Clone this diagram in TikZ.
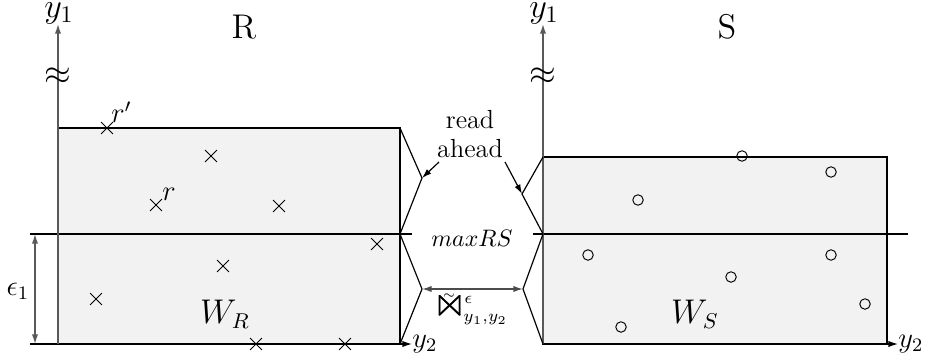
\documentclass[tikz,border=0pt]{standalone}
\usepackage{amssymb}
\usepackage{graphicx}
\usetikzlibrary{arrows.meta,shapes.misc}
\begin{document}
\begin{tikzpicture}[x=0.42pt,y=-0.42pt,
  edge/.style={line width=0.5pt,draw=black},
  axis/.style={line width=0.6pt,draw=black!65,-{Latex[length=4pt,width=2.6pt]}},
  tip/.style={-{Latex[length=4pt,width=2.6pt]}},
  win/.style={edge,fill=black!5},
  xmark/.style={draw,cross out,inner sep=0pt,minimum size=4.6pt,line width=0.4pt},
  omark/.style={draw,circle,inner sep=0pt,minimum size=4.4pt,line width=0.4pt},
  lbl/.style={inner sep=0pt}]
\useasboundingbox (0,0) rectangle (927,362);
% windows
\path[win] (58,128) rectangle (400,344);
\path[win] (543,157) rectangle (887,344);
% maxRS line
\node[lbl] (mrs) at (472,238) {$maxRS$};
\coordinate (ml) at (30,234);
\coordinate (mr) at (908,234);
\draw[edge] (ml) -- (412,234);
\draw[edge] (533,234) -- (mr);
% bottom lines with y2 arrows
\coordinate (bl) at (30,344);
\node[lbl,anchor=west] (y2l) at (412,344) {\large $y_2$};
\node[lbl,anchor=west] (y2r) at (898,344) {\large $y_2$};
\draw[edge,tip] (bl) -- (y2l.west);
\draw[edge,tip] (887,344) -- (y2r.west);
% y1 axes
\node[lbl] (y1l) at (59,13) {\Large $y_1$};
\node[lbl] (y1r) at (544,13) {\Large $y_1$};
\draw[axis] (58,344) -- (58,24);
\draw[axis] (543,344) -- (543,24);
\node[lbl] (sql) at (58,76) {\Large $\approx$};
\node[lbl] (sqr) at (543,76) {\Large $\approx$};
% epsilon dimension
\coordinate (e1) at (35,234);
\coordinate (e2) at (35,344);
\draw[line width=0.6pt,draw=black!65,{Latex[length=4pt,width=2.6pt]}-{Latex[length=4pt,width=2.6pt]}] (e1) -- (e2);
\node[lbl] (eps) at (18,291) {\large $\epsilon_1$};
% labels
\node[lbl] (R) at (244,27) {\Large R};
\node[lbl] (S) at (727,27) {\Large S};
\node[lbl,font=\fontsize{13.5}{15}\selectfont] (WR) at (225,314) {$W_R$};
\node[lbl,font=\fontsize{13.5}{15}\selectfont] (WS) at (695,314) {$W_S$};
% read ahead shapes
\coordinate (la) at (422,178);
\coordinate (lb) at (422,289);
\coordinate (ra) at (522,194);
\coordinate (rb) at (523,289);
\draw[edge] (400,128) -- (la) -- (400,234) -- (lb) -- (400,344);
\draw[edge] (543,157) -- (ra) -- (543,234) -- (rb) -- (543,344);
\node[lbl,align=center,font=\fontsize{11}{12}\selectfont] (ra1) at (470,134) {read\\ahead};
\draw[edge,tip] (439,162) -- (la);
\draw[edge,tip] (505,162) -- (ra);
\draw[line width=0.6pt,draw=black!70,{Latex[length=4pt,width=2.6pt]}-{Latex[length=4pt,width=2.6pt]}] (lb) -- (rb);
\node[lbl] (join) at (450,306) {\scalebox{1.9}[1.8]{$\Join$}};
\node[lbl] (jtil) at (449,296) {$\scriptscriptstyle\sim$};
\node[lbl,anchor=west] (jsup) at (464,300) {$\scriptstyle\epsilon$};
\node[lbl,anchor=west] (jsub) at (463,320) {$\scriptstyle y_1,y_2$};
% R points
\node[xmark] (p1) at (107,128) {};
\node[lbl,anchor=south west] (rp) at (111,123) {\large $r'$};
\node[xmark] (p2) at (211,156) {};
\node[xmark] (p3) at (156,205) {};
\node[lbl,anchor=south west] (rr) at (162,201) {\large $r$};
\node[xmark] (p4) at (279,206) {};
\node[xmark] (p5) at (377,244) {};
\node[xmark] (p6) at (223,266) {};
\node[xmark] (p7) at (96,299) {};
\node[xmark] (p8) at (256,344) {};
\node[xmark] (p9) at (345,344) {};
% S points
\node[omark] (q1) at (742,156) {};
\node[omark] (q2) at (831,172) {};
\node[omark] (q3) at (638,200) {};
\node[omark] (q4) at (588,255) {};
\node[omark] (q5) at (831,255) {};
\node[omark] (q6) at (731,277) {};
\node[omark] (q7) at (865,304) {};
\node[omark] (q8) at (621,327) {};
\end{tikzpicture}
\end{document}
